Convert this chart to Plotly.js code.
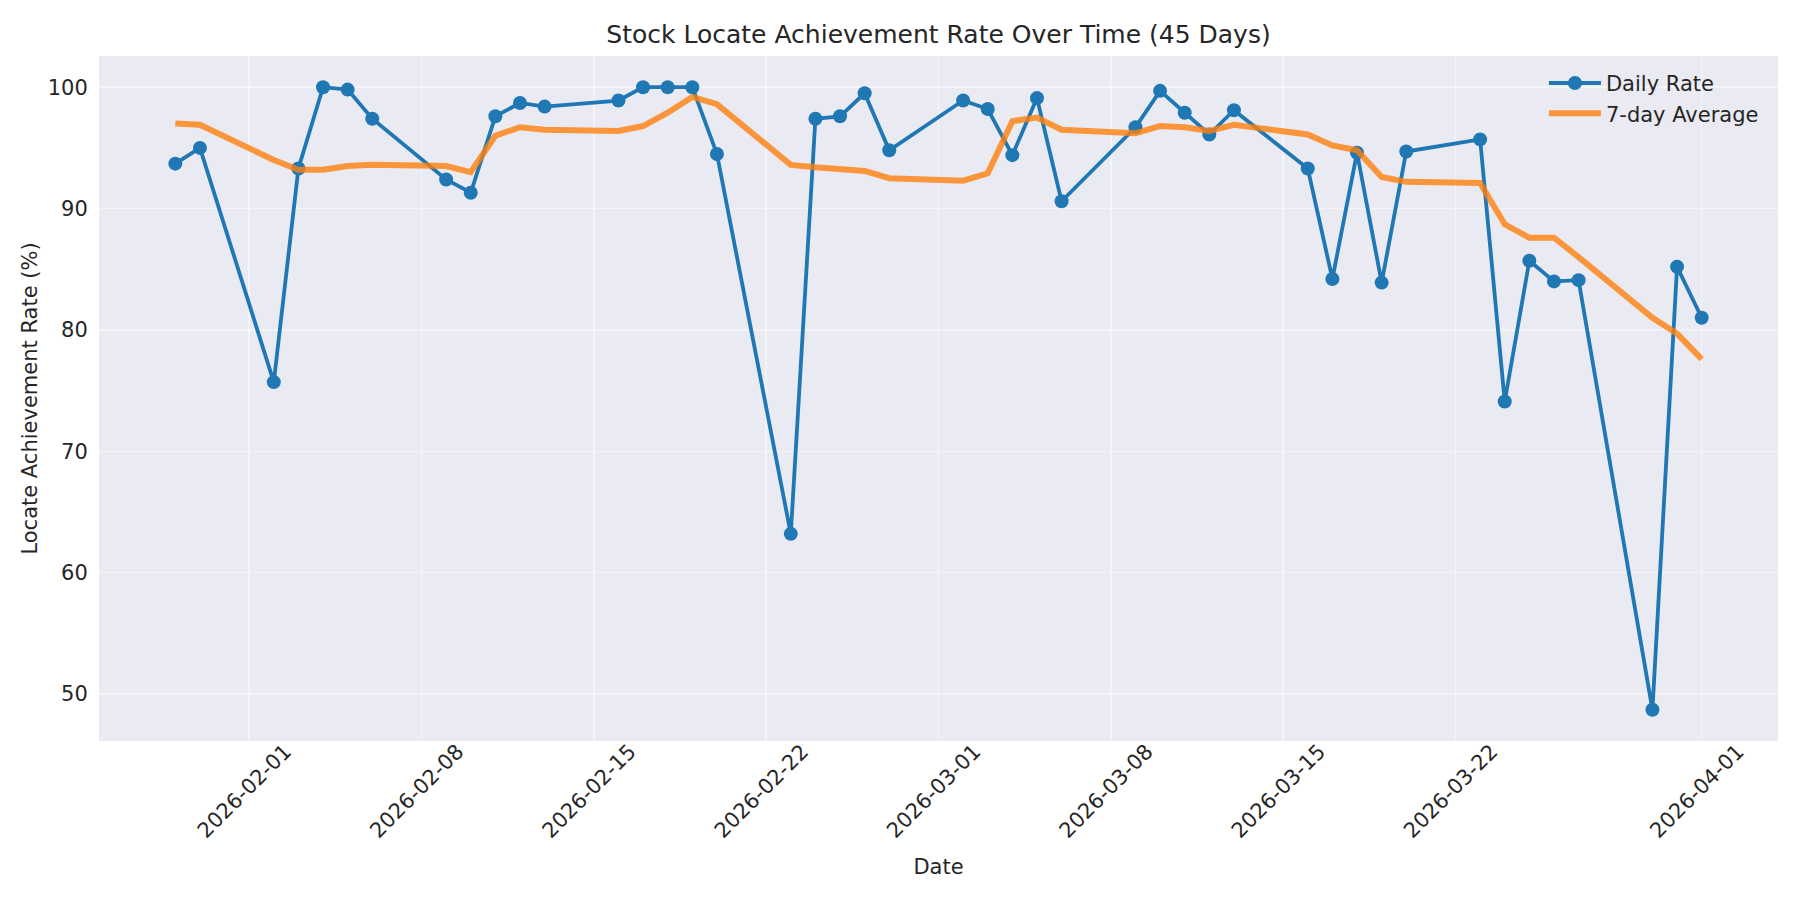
<!DOCTYPE html>
<html>
<head>
<meta charset="utf-8">
<script src="https://cdn.plot.ly/plotly-3.0.1.min.js"></script>
<style>
  body { margin: 0; background: #ffffff; }
  #chart { width: 1800px; height: 900px; }
</style>
</head>
<body>
<div id="chart"></div>
<script>
// ----------------------------- Chart data ------------------------------------
var dates = [
  "2026-01-29", "2026-01-30",
  "2026-02-02", "2026-02-03", "2026-02-04", "2026-02-05", "2026-02-06",
  "2026-02-09", "2026-02-10", "2026-02-11", "2026-02-12", "2026-02-13",
  "2026-02-16", "2026-02-17", "2026-02-18", "2026-02-19", "2026-02-20",
  "2026-02-23", "2026-02-24", "2026-02-25", "2026-02-26", "2026-02-27",
  "2026-03-02", "2026-03-03", "2026-03-04", "2026-03-05", "2026-03-06",
  "2026-03-09", "2026-03-10", "2026-03-11", "2026-03-12", "2026-03-13",
  "2026-03-16", "2026-03-17", "2026-03-18", "2026-03-19", "2026-03-20",
  "2026-03-23", "2026-03-24", "2026-03-25", "2026-03-26", "2026-03-27",
  "2026-03-30", "2026-03-31", "2026-04-01"
];

var dailyRate = [
  93.7, 95.0,
  75.7, 93.3, 100.0, 99.8, 97.4,
  92.4, 91.3, 97.6, 98.7, 98.4,
  98.9, 100.0, 100.0, 100.0, 94.5,
  63.2, 97.4, 97.6, 99.5, 94.8,
  98.9, 98.2, 94.4, 99.1, 90.6,
  96.7, 99.7, 97.9, 96.1, 98.1,
  93.3, 84.2, 94.6, 83.9, 94.7,
  95.7, 74.1, 85.7, 84.0, 84.1,
  48.7, 85.2, 81.0
];

var weekAvg = [
  97.0, 96.9,
  94.0, 93.2, 93.2, 93.5, 93.6,
  93.5, 93.0, 96.0, 96.7, 96.5,
  96.4, 96.8, 97.9, 99.2, 98.6,
  93.6, 93.4, 93.2, 93.1, 92.5,
  92.3, 92.9, 97.2, 97.5, 96.5,
  96.2, 96.8, 96.7, 96.4, 96.9,
  96.1, 95.2, 94.8, 92.6, 92.2,
  92.1, 88.7, 87.6, 87.6, 86.0,
  81.0, 79.7, 77.6
];

var xTicks = [
  "2026-02-01", "2026-02-08", "2026-02-15", "2026-02-22", "2026-03-01",
  "2026-03-08", "2026-03-15", "2026-03-22", "2026-04-01"
];
var yTicks = [50, 60, 70, 80, 90, 100];
// =============================================================================


// ----------------------------- Drawing ---------------------------------------
var textColor = "#262626";
var font = "DejaVu Sans, sans-serif";
var gridColor = "rgba(255,255,255,0.45)";

function drawChart(div) {
  var data = [{
    x: dates,
    y: dailyRate,
    name: "Daily Rate",
    mode: "lines+markers",
    line: { color: "#1f77b4", width: 3.8 },
    marker: { color: "#1f77b4", size: 14 },
    hoverinfo: "none"
  }, {
    x: dates,
    y: weekAvg,
    name: "7-day Average",
    mode: "lines",
    line: { color: "#ff7f0e", width: 6 },
    opacity: 0.8,
    hoverinfo: "none"
  }];

  var layout = {
    width: 1800,
    height: 900,
    margin: { l: 99, r: 22, t: 56, b: 159 },
    paper_bgcolor: "#ffffff",
    plot_bgcolor: "#eaeaf2",
    font: { family: font, color: textColor, size: 21 },
    title: {
      text: "Stock Locate Achievement Rate Over Time (45 Days)",
      font: { family: font, size: 25, color: textColor },
      x: 0.5,
      xref: "paper",
      y: 1 - 34 / 900,
      yref: "container",
      yanchor: "middle"
    },
    xaxis: {
      type: "date",
      range: ["2026-01-25 21:36", "2026-04-04 02:24"],
      tickvals: xTicks,
      ticktext: xTicks,
      tickangle: -45,
      tickfont: { size: 21 },
      ticklabelshift: 36,
      ticklabelstandoff: -7,
      showgrid: true,
      gridcolor: gridColor,
      gridwidth: 1.5,
      zeroline: false,
      showline: false,
      ticks: "",
      title: { text: "Date", font: { size: 21 }, standoff: 17 }
    },
    yaxis: {
      range: [46.13, 102.57],
      tickvals: yTicks,
      tickfont: { size: 21 },
      showgrid: true,
      gridcolor: gridColor,
      gridwidth: 1.5,
      zeroline: false,
      showline: false,
      ticks: "outside",
      ticklen: 6,
      tickcolor: "rgba(0,0,0,0)",
      title: { text: "Locate Achievement Rate (%)", font: { size: 21 }, standoff: 4 }
    },
    showlegend: true,
    legend: {
      x: 0.8606,
      xanchor: "left",
      y: 0.99,
      yanchor: "top",
      bgcolor: "rgba(0,0,0,0)",
      font: { size: 21, color: textColor },
      itemwidth: 52,
      tracegroupgap: 0
    }
  };

  Plotly.newPlot(div, data, layout, { displayModeBar: false, staticPlot: true });
}

drawChart(document.getElementById("chart"));
// =============================================================================
</script>
</body>
</html>
